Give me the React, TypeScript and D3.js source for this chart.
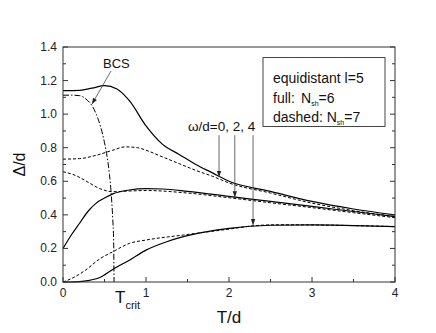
import React from 'react'
import * as d3 from 'd3'

// temperatures (T/d) and gaps (Δ/d)
const tFull0 = [0, 0.2, 0.35, 0.5, 0.65, 0.8, 1.0, 1.2, 1.4, 1.6, 1.8, 2.0, 2.5, 3.0, 3.5, 4.0]
const gFull0 = [1.14, 1.142, 1.155, 1.17, 1.15, 1.08, 0.93, 0.82, 0.76, 0.70, 0.65, 0.60, 0.54, 0.48, 0.435, 0.40]

const tDash0 = [0, 0.2, 0.4, 0.6, 0.75, 0.9, 1.0, 1.2, 1.4, 1.6, 1.8, 2.0, 2.5, 3.0, 3.5, 4.0]
const gDash0 = [0.732, 0.735, 0.755, 0.785, 0.805, 0.80, 0.785, 0.745, 0.705, 0.665, 0.63, 0.59, 0.53, 0.47, 0.425, 0.39]

const tFull2 = [0, 0.1, 0.2, 0.3, 0.4, 0.5, 0.6, 0.8, 1.0, 1.2, 1.5, 2.0, 2.5, 3.0, 3.5, 4.0]
const gFull2 = [0.20, 0.28, 0.35, 0.42, 0.47, 0.50, 0.525, 0.548, 0.556, 0.554, 0.54, 0.51, 0.48, 0.45, 0.42, 0.39]

const tDash2 = [0, 0.15, 0.3, 0.45, 0.6, 0.8, 1.0, 1.5, 2.0, 2.5, 3.0, 3.5, 4.0]
const gDash2 = [0.657, 0.635, 0.595, 0.555, 0.538, 0.542, 0.545, 0.53, 0.502, 0.472, 0.443, 0.413, 0.383]

const tFull4 = [0, 0.15, 0.3, 0.45, 0.6, 0.8, 1.0, 1.25, 1.45, 2.0, 2.5, 3.0, 3.5, 4.0]
const gFull4 = [0, 0.001, 0.008, 0.028, 0.075, 0.13, 0.19, 0.24, 0.27, 0.32, 0.338, 0.34, 0.336, 0.33]

const tDash4 = [0, 0.1, 0.25, 0.45, 0.6, 0.8, 1.0, 1.45, 2.0, 2.3, 2.6, 3.0, 3.5, 4.0]
const gDash4 = [0, 0.02, 0.063, 0.14, 0.18, 0.23, 0.25, 0.28, 0.315, 0.335, 0.341, 0.34, 0.336, 0.33]

const tBCS = [0, 0.1, 0.2, 0.25, 0.3, 0.35, 0.4, 0.45, 0.5, 0.53, 0.56, 0.58, 0.6, 0.61, 0.615]
const gBCS = [1.113, 1.113, 1.11, 1.10, 1.08, 1.05, 1.0, 0.93, 0.83, 0.75, 0.64, 0.53, 0.37, 0.25, 0]

const tCrit = 0.615

// ω/d = 0, 2, 4 arrows: where they land on the curves
const arrowT = [1.88, 2.07, 2.29]
const arrowG = [0.625, 0.505, 0.34]
const arrowTop = 0.875

const xTicks = [0, 1, 2, 3, 4]
const yTicks = [0, 0.2, 0.4, 0.6, 0.8, 1.0, 1.2, 1.4]

const W = 436
const H = 333
const m = { left: 63, top: 47, right: 41, bottom: 51 }

export default function App() {
  const x = d3.scaleLinear().domain([0, 4]).range([m.left, W - m.right])
  const y = d3.scaleLinear().domain([0, 1.4]).range([H - m.bottom, m.top])

  const line = (ts: number[], gs: number[]) =>
    d3.line<number>()
      .x((d, i) => x(ts[i]))
      .y((d) => y(d))
      .curve(d3.curveMonotoneX)(gs) || ''

  const xMinor = d3.range(0, 4.01, 0.5)
  const yMinor = d3.range(0, 1.401, 0.1)
  const x0 = x(0), x1 = x(4), y0 = y(0), y1 = y(1.4)
  const font = 'Arial, "Liberation Sans", sans-serif'

  const arrowHead = (px: number, py: number, ang: number, key: string) => {
    // ang: direction of travel in radians
    const l = 6, w = 2.2
    const bx = px - l * Math.cos(ang), by = py - l * Math.sin(ang)
    const nx = -Math.sin(ang) * w, ny = Math.cos(ang) * w
    return <path key={key} d={`M${px},${py}L${bx + nx},${by + ny}L${bx - nx},${by - ny}Z`} fill='#222' />
  }

  const bcsFrom = [111, 71]
  const bcsTo = [92, 104]
  const bcsAng = Math.atan2(bcsTo[1] - bcsFrom[1], bcsTo[0] - bcsFrom[0])

  return (
    <svg width={W} height={H} style={{ position: 'absolute', left: 0, top: 0, background: '#fff' }} fontFamily={font}>
      <rect x={0} y={0} width={W} height={H} fill='#fff' />

      {/* curves */}
      <g fill='none' stroke='#000'>
        <path d={line(tFull0, gFull0)} strokeWidth={1.2} />
        <path d={line(tFull2, gFull2)} strokeWidth={1.2} />
        <path d={line(tFull4, gFull4)} strokeWidth={1.2} />
        <path d={line(tDash0, gDash0)} strokeWidth={1} strokeDasharray='3,2' />
        <path d={line(tDash2, gDash2)} strokeWidth={1} strokeDasharray='3,2' />
        <path d={line(tDash4, gDash4)} strokeWidth={1} strokeDasharray='3,2' />
        <path d={line(tBCS, gBCS)} strokeWidth={1} strokeDasharray='6,2,1.5,2' />
      </g>

      {/* frame */}
      <rect x={x0} y={y1} width={x1 - x0} height={y0 - y1} fill='none' stroke='#333' strokeWidth={1} />

      {/* ticks */}
      <g stroke='#333' strokeWidth={1}>
        {xMinor.map((t, i) => (
          <line key={'xt' + i} x1={x(t)} x2={x(t)} y1={y0} y2={y0 - (i % 2 === 0 ? 5 : 3)} />
        ))}
        {yMinor.map((t, i) => (
          <line key={'yl' + i} x1={x0} x2={x0 + (i % 2 === 0 ? 5 : 3)} y1={y(t)} y2={y(t)} />
        ))}
        {yMinor.map((t, i) => (
          <line key={'yr' + i} x1={x1} x2={x1 - (i % 2 === 0 ? 5 : 3)} y1={y(t)} y2={y(t)} />
        ))}
      </g>

      {/* tick labels */}
      <g fontSize={12} fill='#222'>
        {xTicks.map((t) => (
          <text key={'xl' + t} x={x(t)} y={y0 + 15} textAnchor='middle'>{t}</text>
        ))}
        {yTicks.map((t) => (
          <text key={'ylab' + t} x={x0 - 6} y={y(t) + 4} textAnchor='end'>{t.toFixed(1)}</text>
        ))}
      </g>

      {/* axis titles */}
      <text x={229} y={323} fontSize={17} textAnchor='middle' fill='#111'>T/d</text>
      <text transform={`translate(25,${(y0 + y1) / 2}) rotate(-90)`} fontSize={16} textAnchor='middle' fill='#111'>Δ/d</text>

      {/* T_crit */}
      <text x={x(tCrit) + 1} y={303} fontSize={17} fill='#111'>T<tspan fontSize={11} dy={6}>crit</tspan></text>

      {/* BCS label and arrow */}
      <text x={103} y={68} fontSize={13} fill='#111'>BCS</text>
      <line x1={bcsFrom[0]} y1={bcsFrom[1]} x2={bcsTo[0]} y2={bcsTo[1]} stroke='#444' strokeWidth={0.8} />
      {arrowHead(bcsTo[0], bcsTo[1], bcsAng, 'bcsh')}

      {/* omega arrows */}
      <text x={188} y={131} fontSize={13.5} fill='#111'>ω/d=0, 2, 4</text>
      {arrowT.map((t, i) => (
        <g key={'ar' + i}>
          <line x1={x(t)} x2={x(t)} y1={y(arrowTop)} y2={y(arrowG[i])} stroke='#444' strokeWidth={0.8} />
          {arrowHead(x(t), y(arrowG[i]), Math.PI / 2, 'ah' + i)}
        </g>
      ))}

      {/* legend box */}
      <rect x={263} y={57.5} width={122} height={69} fill='#fff' stroke='#444' strokeWidth={1} />
      <g fontSize={14} fill='#111'>
        <text x={273} y={83}>equidistant l=5</text>
        <text x={273} y={103}>full:<tspan x={301}>N</tspan><tspan fontSize={7} dy={3}>sh</tspan><tspan dy={-3}>=6</tspan></text>
        <text x={273} y={122}>dashed: N<tspan fontSize={7} dy={3}>sh</tspan><tspan dy={-3}>=7</tspan></text>
      </g>
    </svg>
  )
}
